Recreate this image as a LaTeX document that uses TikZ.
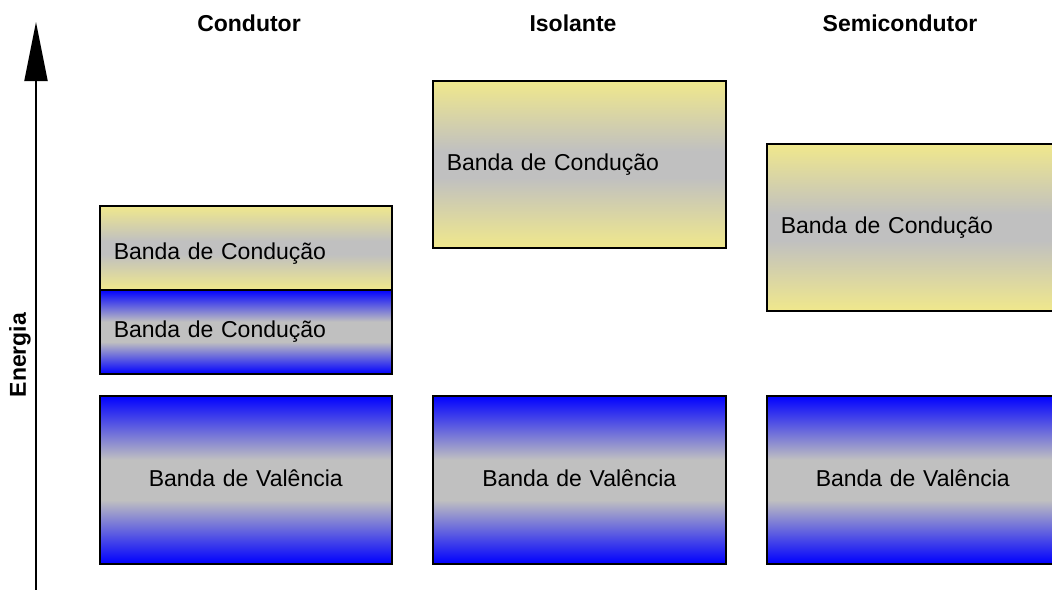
\documentclass[tikz,border=0pt]{standalone}
\usepackage{fontspec}
\setmainfont{Liberation Sans}
\usetikzlibrary{arrows.meta}
\definecolor{khk}{RGB}{240,232,140}
\definecolor{bandgray}{RGB}{192,192,192}
\definecolor{bandblue}{RGB}{0,0,255}
\pgfdeclareverticalshading{yellowband}{100bp}{color(0bp)=(khk); color(25bp)=(khk); color(46bp)=(bandgray); color(54bp)=(bandgray); color(75bp)=(khk); color(100bp)=(khk)}
\pgfdeclareverticalshading{blueband}{100bp}{color(0bp)=(bandblue); color(25bp)=(bandblue); color(44bp)=(bandgray); color(56bp)=(bandgray); color(75bp)=(bandblue); color(100bp)=(bandblue)}
\tikzset{
  band/.style={draw=black, line width=1.5pt, rectangle, anchor=north west, inner ysep=0pt,
    font=\fontsize{23}{27}\selectfont},
  cond/.style={band, shading=yellowband, inner xsep=14pt, text width=#1-28pt, align=left, minimum width=#1},
  condb/.style={band, shading=blueband, inner xsep=14pt, text width=#1-28pt, align=left, minimum width=#1},
  val/.style={band, shading=blueband, inner xsep=0pt, text width=#1, align=center, minimum width=#1},
  title/.style={font=\bfseries\fontsize{23}{27}\selectfont, inner sep=0pt},
}
\begin{document}
\begin{tikzpicture}[x=1pt,y=-1pt]
\clip (0,0) rectangle (1052,589);
\fill[white] (0,0) rectangle (1052,589);
% axis
\coordinate (abot) at (36,595);
\coordinate (atop) at (36,22);
\draw[line width=2pt, -{Triangle[width=23pt,length=59pt]}] (abot) -- (atop);
\node[title, rotate=90] (energia) at (20,355) {Energia};
% titles
\node[title] (tc) at (249,23) {Condutor};
\node[title] (ti) at (573,23) {Isolante};
\node[title] (ts) at (900,23) {Semicondutor};
% Condutor
\node[cond=292pt, minimum height=84pt, text height=24pt, text depth=0pt] (c1) at (99,205) {Banda de Condução};
\node[condb=292pt, minimum height=84pt] (c2) at (99,289) {Banda de Condução};
\node[val=292pt, minimum height=168pt, text height=19pt, text depth=5pt] (cv) at (99,395) {Banda de Valência};
% Isolante
\node[cond=293pt, minimum height=167pt] (i1) at (432,80) {Banda de Condução};
\node[val=293pt, minimum height=168pt, text height=19pt, text depth=5pt] (iv) at (432,395) {Banda de Valência};
% Semicondutor
\node[cond=292pt, minimum height=167pt] (s1) at (766,143) {Banda de Condução};
\node[val=292pt, minimum height=168pt, text height=19pt, text depth=5pt] (sv) at (766,395) {Banda de Valência};
\end{tikzpicture}
\end{document}
